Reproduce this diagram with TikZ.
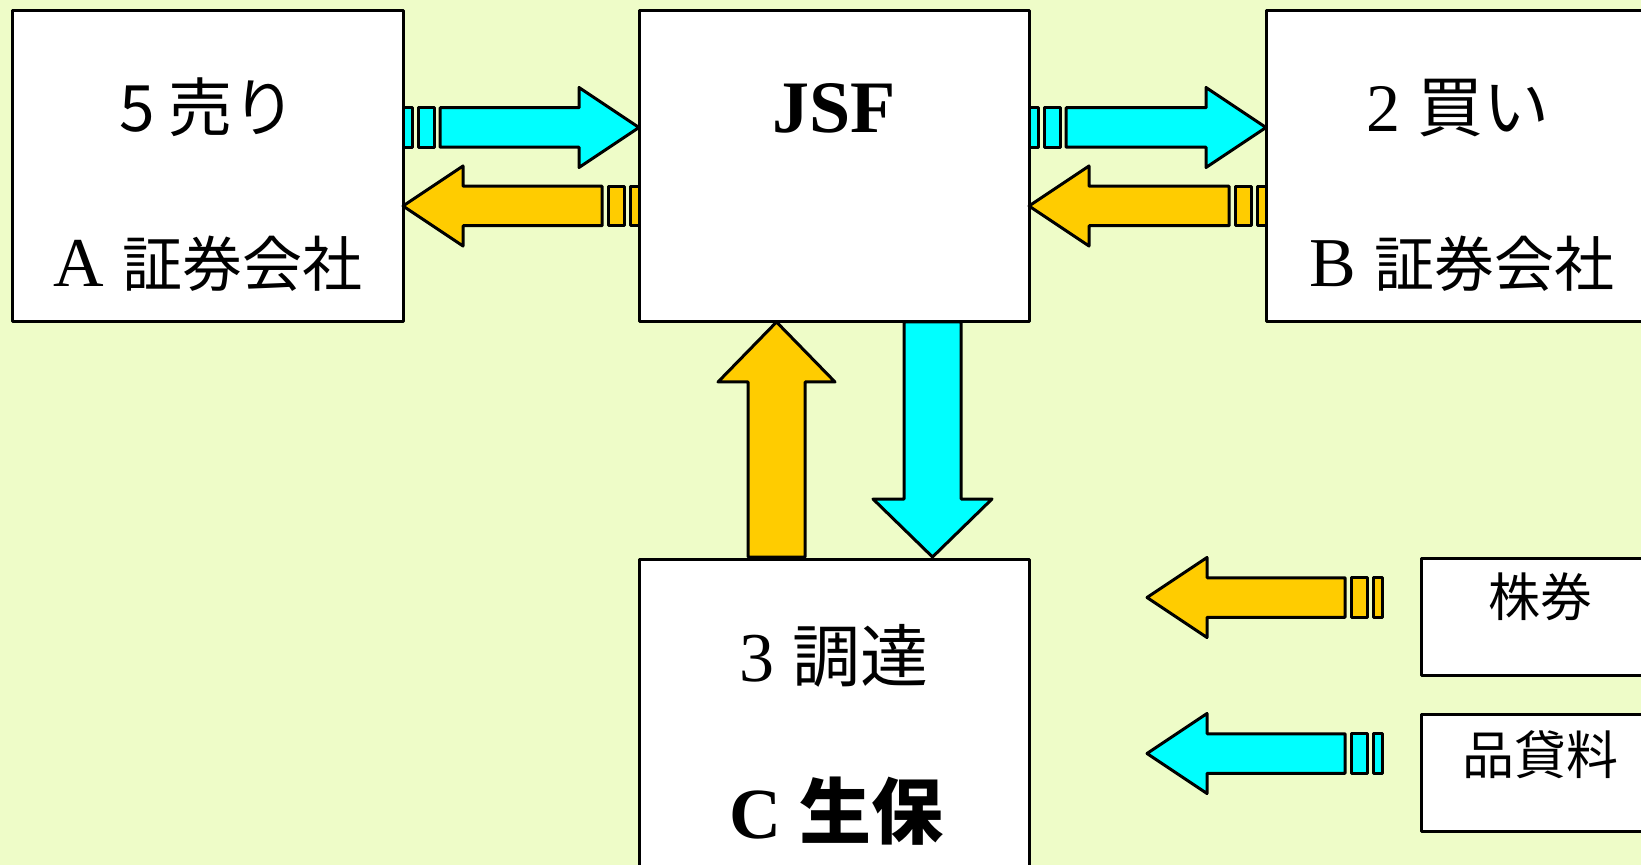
\documentclass[tikz,border=0pt]{standalone}
\usepackage{fontspec}
\usetikzlibrary{fit}
\setmainfont{Liberation Serif}
\newfontfamily\jp{Noto Sans CJK JP}
\definecolor{bgc}{RGB}{238,252,200}
\definecolor{cy}{RGB}{0,255,255}
\definecolor{og}{RGB}{255,204,0}
\newcommand{\setfs}[1]{\fontsize{#1}{#1}\selectfont}
\tikzset{
  boxst/.style={draw=black, fill=white, line width=1.5pt, line join=round, inner sep=0pt},
  arr/.style={draw=black, line width=1.5pt, line join=round},
  lbl/.style={inner sep=0pt, anchor=center},
}
% striped horizontal block arrow: #1 colour, #2 tail x, #3 tip x, #4 centre y
\newcommand{\hstripe}[4]{%
  \pgfmathsetmacro{\hsS}{(#3>#2)?1:-1}%
  \pgfmathsetmacro{\hsA}{#2+\hsS*9}%
  \pgfmathsetmacro{\hsB}{#2+\hsS*15}%
  \pgfmathsetmacro{\hsC}{#2+\hsS*31}%
  \pgfmathsetmacro{\hsD}{#2+\hsS*37}%
  \pgfmathsetmacro{\hsH}{#3-\hsS*60}%
  \pgfmathsetmacro{\hsT}{#4-19.75}%
  \pgfmathsetmacro{\hsU}{#4+19.75}%
  \pgfmathsetmacro{\hsP}{#4-40}%
  \pgfmathsetmacro{\hsQ}{#4+40}%
  \draw[arr, fill=#1] (#2,\hsT) rectangle (\hsA,\hsU);
  \draw[arr, fill=#1] (\hsB,\hsT) rectangle (\hsC,\hsU);
  \draw[arr, fill=#1] (\hsD,\hsT) -- (\hsH,\hsT) -- (\hsH,\hsP) -- (#3,#4)
     -- (\hsH,\hsQ) -- (\hsH,\hsU) -- (\hsD,\hsU) -- cycle;
}
\begin{document}
\begin{tikzpicture}[x=0.5pt, y=-0.5pt]
\useasboundingbox (0,0) rectangle (1641,865);
\fill[bgc] (0,0) rectangle (1641,865);
\clip (0,0) rectangle (1641,865);

% boxes
\path (12,11) coordinate (a1) (403,322) coordinate (a2)
      (639,11) coordinate (j1) (1029,322) coordinate (j2)
      (1266,11) coordinate (b1) (1680,322) coordinate (b2)
      (639,559) coordinate (c1) (1029,900) coordinate (c2)
      (1421,558) coordinate (k1) (1680,675) coordinate (k2)
      (1421,714) coordinate (h1) (1680,831) coordinate (h2);
\node[boxst, fit=(a1)(a2)] (A) {};
\node[boxst, fit=(j1)(j2)] (J) {};
\node[boxst, fit=(b1)(b2)] (B) {};
\node[boxst, fit=(c1)(c2)] (C) {};
\node[boxst, fit=(k1)(k2)] (K) {};
\node[boxst, fit=(h1)(h2)] (H) {};

% labels
\node[lbl] (tA1) at (208,107) {\jp\setfs{32pt}5 売り};
\node[lbl] (tA2) at (208,264) {{\setfs{35pt}A }{\jp\setfs{30pt}証券会社}};
\node[lbl] (tJ) at (834,108) {\bfseries\setfs{37pt}JSF};
\node[lbl] (tB1) at (1458,108) {{\setfs{34pt}2 }{\jp\setfs{33pt}買い}};
\node[lbl] (tB2) at (1462,264) {{\setfs{35pt}B }{\jp\setfs{30pt}証券会社}};
\node[lbl] (tC1) at (834,656) {{\setfs{35pt}3 }{\jp\setfs{34pt}調達}};
\node[lbl] (tC2) at (836,811) {\bfseries{\setfs{36pt}C }{\jp\setfs{36pt}生保}};
\node[lbl] (tK) at (1540,597) {\jp\setfs{26pt}株券};
\node[lbl] (tH) at (1540,755) {\jp\setfs{26pt}品貸料};

% horizontal striped arrows
\hstripe{cy}{403}{639}{127.5}
\hstripe{og}{639}{403}{206}
\hstripe{cy}{1029}{1266}{127.5}
\hstripe{og}{1266}{1029}{206}
\hstripe{og}{1382}{1147}{597.5}
\hstripe{cy}{1382}{1147}{753.5}

% vertical arrows
\draw[arr, fill=og] (748,557) -- (748,382) -- (718,382) -- (776.5,322)
   -- (835,382) -- (805,382) -- (805,557) -- cycle;
\draw[arr, fill=cy] (904,322) -- (904,499) -- (873,499) -- (932.5,557)
   -- (992,499) -- (961,499) -- (961,322) -- cycle;
\end{tikzpicture}
\end{document}
